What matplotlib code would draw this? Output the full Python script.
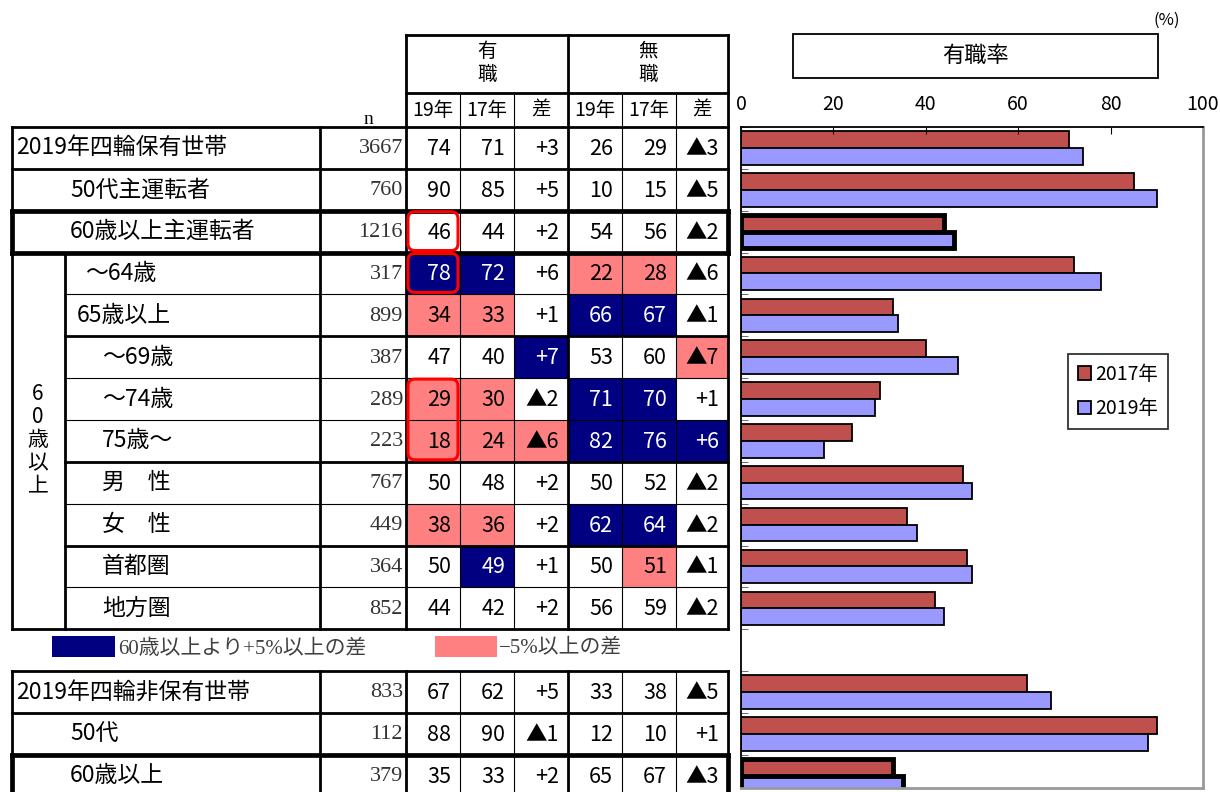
import numpy as np
import matplotlib.pyplot as plt
from matplotlib.patches import Rectangle, FancyBboxPatch

plt.rcParams['font.family'] = ['Noto Sans CJK JP', 'DejaVu Sans']
SERIF = ['Liberation Serif', 'Noto Sans CJK JP']

# ---- data ----
labels = ["2019年四輪保有世帯", "50代主運転者", "60歳以上主運転者", "～64歳", "65歳以上",
          "～69歳", "～74歳", "75歳～", "男　性", "女　性", "首都圏", "地方圏",
          "2019年四輪非保有世帯", "50代", "60歳以上"]
n_size = [3667, 760, 1216, 317, 899, 387, 289, 223, 767, 449, 364, 852, 833, 112, 379]
emp19 = [74, 90, 46, 78, 34, 47, 29, 18, 50, 38, 50, 44, 67, 88, 35]
emp17 = [71, 85, 44, 72, 33, 40, 30, 24, 48, 36, 49, 42, 62, 90, 33]
emp_diff = ["+3", "+5", "+2", "+6", "+1", "+7", "▲2", "▲6", "+2", "+2", "+1", "+2", "+5", "▲1", "+2"]
unemp19 = [26, 10, 54, 22, 66, 53, 71, 82, 50, 62, 50, 56, 33, 12, 65]
unemp17 = [29, 15, 56, 28, 67, 60, 70, 76, 52, 64, 51, 59, 38, 10, 67]
unemp_diff = ["▲3", "▲5", "▲2", "▲6", "▲1", "▲7", "+1", "+6", "▲2", "▲2", "▲1", "▲2", "▲5", "+1", "▲3"]
# cell shading per row: B = +5 or more vs 60+, P = -5 or more
shade = ["......", "......", "......", "BB.PP.", "PP.BB.", "..B..P", "PP.BB.", "PPPBBB",
         "......", "PP.BB.", ".B..P.", "......", "......", "......", "......"]
years = ["2017年", "2019年"]

# ---- layout ----
NAVY = '#000080'
PINK = '#FF8080'
RED_BAR = '#C0504D'
BLUE_BAR = '#9999FF'
TOP = 127
RH = 41.85
row_pos = [0, 1, 2, 3, 4, 5, 6, 7, 8, 9, 10, 11, 13, 14, 15]
indent = [16, 70, 70, 85, 77, 102, 102, 102, 102, 102, 102, 102, 16, 70, 70]
cols = [406, 460, 514, 568, 622, 676, 728]

fig = plt.figure(figsize=(12.2, 7.92), dpi=100)
ax = fig.add_axes([0, 0, 1, 1])
ax.set_xlim(0, 1220)
ax.set_ylim(792, 0)
ax.axis('off')


def ry(k):
    return TOP + RH * k


def hline(y, x0, x1, lw):
    ax.plot([x0, x1], [y, y], color='black', lw=lw, solid_capstyle='projecting')


def vline(x, y0, y1, lw):
    ax.plot([x, x], [y0, y1], color='black', lw=lw, solid_capstyle='projecting')


THIN, THICK, HEAVY = 0.8, 2.0, 3.4

# header
for txt, xc in [("有\n職", 487), ("無\n職", 648)]:
    ax.text(xc, 63, txt, ha='center', va='center', fontsize=14, linespacing=1.15)
for i, txt in enumerate(["19年", "17年", "差", "19年", "17年", "差"]):
    ax.text((cols[i] + cols[i + 1]) / 2, 110, txt, ha='center', va='center', fontsize=14)
ax.text(368, 119, "n", ha='center', va='center', fontsize=14, family=SERIF)
hline(35, 406, 728, THICK)
hline(93, 406, 728, THICK)
for x in [406, 568, 728]:
    vline(x, 35, TOP, THICK)
for x in [460, 514, 622, 676]:
    vline(x, 93, TOP, THIN)

# cells
for r, k in enumerate(row_pos):
    y0, y1 = ry(k), ry(k + 1)
    yc = (y0 + y1) / 2
    ax.text(indent[r], yc, labels[r], ha='left', va='center', fontsize=16.5)
    ax.text(403, yc + 1, str(n_size[r]), ha='right', va='center', fontsize=16,
            family=SERIF, color='#333333')
    vals = [emp19[r], emp17[r], emp_diff[r], unemp19[r], unemp17[r], unemp_diff[r]]
    for c, v in enumerate(vals):
        code = shade[r][c]
        tc = 'black'
        if code == 'B':
            ax.add_patch(Rectangle((cols[c], y0), cols[c + 1] - cols[c], y1 - y0,
                                   facecolor=NAVY, edgecolor='none'))
            tc = 'white'
        elif code == 'P':
            ax.add_patch(Rectangle((cols[c], y0), cols[c + 1] - cols[c], y1 - y0,
                                   facecolor=PINK, edgecolor='none'))
        ax.text(cols[c + 1] - 9, yc + 1, str(v), ha='right', va='center',
                fontsize=15.5, color=tc)

# group label
ax.text(38, 440, "6\n0\n歳\n以\n上", ha='center', va='center', fontsize=15,
        linespacing=1.05)

# horizontal grid
h_style = {0: THICK, 1: THICK, 2: HEAVY, 3: HEAVY, 4: THIN, 5: THICK, 6: THIN, 7: THIN,
           8: THICK, 9: THIN, 10: THICK, 11: THIN, 12: THICK, 13: THICK, 14: THICK, 15: HEAVY}
for k, lw in h_style.items():
    x0 = 65 if 4 <= k <= 11 else 12
    hline(ry(k), x0, 728, lw)
# vertical grid
for y0, y1 in [(ry(0), ry(12)), (ry(13), 800)]:
    vline(12, y0, y1, THICK)
    vline(320, y0, y1, THICK)
    vline(406, y0, y1, THICK)
    vline(568, y0, y1, THICK)
    vline(728, y0, y1, THICK)
    for x in [460, 514, 622, 676]:
        vline(x, y0, y1, THIN)
vline(65, ry(3), ry(12), THICK)
# highlight rows
for k in [2, 15]:
    vline(12, ry(k), ry(k + 1), HEAVY)
    vline(728, ry(k), ry(k + 1), HEAVY)

# red rounded frames
for k0, k1 in [(2, 3), (3, 4), (6, 8)]:
    ax.add_patch(FancyBboxPatch((408, ry(k0) + 1), 50, ry(k1) - ry(k0) - 3,
                                boxstyle="round,pad=0,rounding_size=7",
                                facecolor='none', edgecolor='#FF0000', lw=2.2, zorder=5))

# shading legend
ax.add_patch(Rectangle((52, 636), 63, 21, facecolor=NAVY, edgecolor='none'))
ax.text(118, 649, "60歳以上より+5%以上の差", ha='left', va='center', fontsize=15,
        family=SERIF, color='#404040')
ax.add_patch(Rectangle((435, 636), 62, 21, facecolor=PINK, edgecolor='none'))
ax.text(499, 649, "−5%以上の差", ha='left', va='center', fontsize=15,
        family=SERIF, color='#404040')

# chart title box
ax.add_patch(Rectangle((793, 34), 365, 44, facecolor='white', edgecolor='black', lw=1.3))
ax.text(975, 56, "有職率", ha='center', va='center', fontsize=16)
ax.text(1167, 20, "(%)", ha='center', va='center', fontsize=12)

# ---- bar chart ----
bx = fig.add_axes([741 / 1220, 4 / 792, 462 / 1220, 661 / 792])
ypos = np.array(row_pos, dtype=float)
b17 = bx.barh(ypos + 0.3, emp17, height=0.4, color=RED_BAR, edgecolor='black', lw=1.3,
              label=years[0])
b19 = bx.barh(ypos + 0.7, emp19, height=0.4, color=BLUE_BAR, edgecolor='black', lw=1.3,
              label=years[1])
for r in [2, 14]:
    b17.patches[r].set_linewidth(3.5)
    b19.patches[r].set_linewidth(3.5)
bx.set_xlim(0, 100)
bx.set_ylim((788 - TOP) / RH, 0)
bx.xaxis.tick_top()
bx.set_xticks([0, 20, 40, 60, 80, 100])
bx.tick_params(axis='x', direction='in', length=5, pad=9, labelsize=14)
bx.set_yticks([])
bx.set_yticks(np.arange(0, 16), minor=True)
bx.tick_params(axis='y', which='minor', direction='in', length=5, color='#555555')
for s in ['top', 'left']:
    bx.spines[s].set_linewidth(1.3)
for s in ['right', 'bottom']:
    bx.spines[s].set_color('#999999')
    bx.spines[s].set_linewidth(2)
leg = bx.legend(handles=[b17, b19], loc='upper left', bbox_to_anchor=(1068 / 1220, 1 - 354 / 792),
                bbox_transform=fig.transFigure, fontsize=14, frameon=True, fancybox=False,
                handlelength=0.7, handleheight=0.7, handletextpad=0.2, borderpad=0.5,
                labelspacing=0.7, borderaxespad=0)
leg.get_frame().set_edgecolor('black')
leg.get_frame().set_linewidth(1.3)

fig.savefig("out.png", dpi=100)
